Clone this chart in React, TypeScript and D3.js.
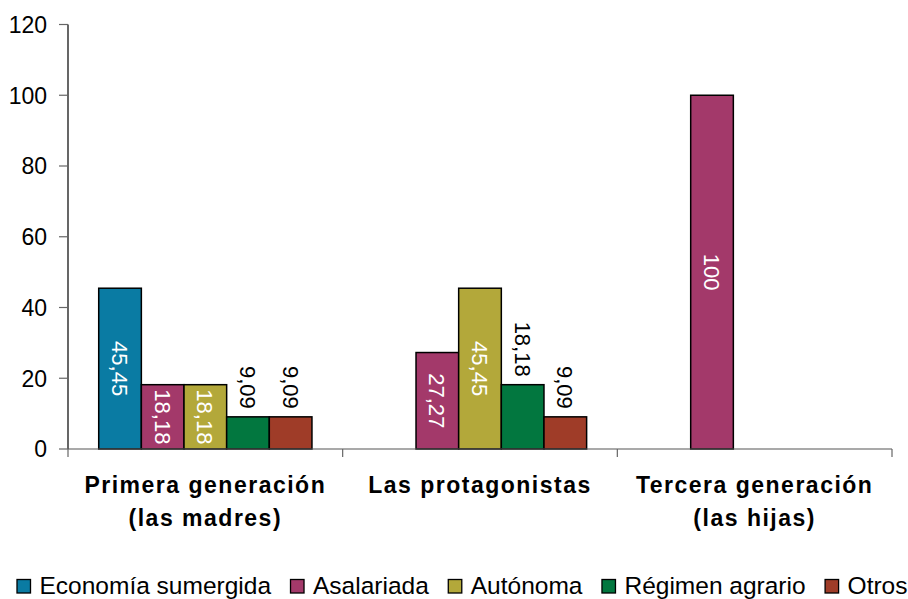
import React, { useEffect, useRef } from "react";
import * as d3 from "d3";

const categories = ["Primera generación (las madres)", "Las protagonistas", "Tercera generación (las hijas)"];
const categoryLines = [["Primera generación", "(las madres)"], ["Las protagonistas"], ["Tercera generación", "(las hijas)"]];
const series = ["Economía sumergida", "Asalariada", "Autónoma", "Régimen agrario", "Otros"];
const economiaSumergida = [45.45, null, null];
const asalariada = [18.18, 27.27, 100];
const autonoma = [18.18, 45.45, null];
const regimenAgrario = [9.09, 18.18, null];
const otros = [9.09, 9.09, null];
const seriesValues = [economiaSumergida, asalariada, autonoma, regimenAgrario, otros];
const colors = ["#0A7BA3", "#A3396A", "#B3A83A", "#02773F", "#9F3C28"];
const yTicks = [0, 20, 40, 60, 80, 100, 120];
// labels drawn above the bar (black) instead of inside (white)
const labelsAbove = [
  ["Primera generación (las madres)", "Régimen agrario"],
  ["Primera generación (las madres)", "Otros"],
  ["Las protagonistas", "Régimen agrario"],
  ["Las protagonistas", "Otros"],
];

const W = 908;
const H = 599;
const FONT = "'Liberation Sans', Arial, Helvetica, sans-serif";

function fmt(v: number) {
  return Number.isInteger(v) ? String(v) : v.toFixed(2).replace(".", ",");
}

export default function App() {
  const ref = useRef<SVGSVGElement>(null);

  useEffect(() => {
    const svg = d3.select(ref.current);
    svg.selectAll("*").remove();

    const left = 68, right = 892, top = 24.5, bottom = 449;
    const x0 = d3.scaleBand<string>().domain(categories).range([left, right]).padding(0);
    const x1 = d3.scaleBand<string>().domain(series).range([0, x0.bandwidth()]).paddingInner(0).paddingOuter(0.72);
    const y = d3.scaleLinear().domain([0, 120]).range([bottom, top]);

    // y axis
    svg.append("line").attr("x1", left).attr("x2", left).attr("y1", y(120)).attr("y2", y(0))
      .attr("stroke", "#000").attr("stroke-width", 1.2);
    const yt = svg.append("g");
    yTicks.forEach((t) => {
      yt.append("line").attr("x1", left - 9).attr("x2", left).attr("y1", y(t)).attr("y2", y(t))
        .attr("stroke", "#666").attr("stroke-width", 1.2);
      yt.append("text").attr("x", 47).attr("y", y(t)).attr("dy", "0.36em").attr("text-anchor", "end")
        .attr("font-family", FONT).attr("font-size", 23).attr("fill", "#000").text(String(t));
    });

    // bars
    const rows: { cat: string; ser: string; v: number; i: number }[] = [];
    categories.forEach((c, ci) => {
      series.forEach((s, si) => {
        const v = seriesValues[si][ci];
        if (v != null) rows.push({ cat: c, ser: s, v, i: si });
      });
    });

    const bars = svg.append("g");
    rows.forEach((r) => {
      const bx = x0(r.cat)! + x1(r.ser)!;
      bars.append("rect").attr("x", bx).attr("y", y(r.v)).attr("width", x1.bandwidth())
        .attr("height", y(0) - y(r.v)).attr("fill", colors[r.i]).attr("stroke", "#000").attr("stroke-width", 1.5);
    });

    // x axis
    svg.append("line").attr("x1", left).attr("x2", right).attr("y1", bottom).attr("y2", bottom)
      .attr("stroke", "#555").attr("stroke-width", 1.2);
    const xTickPos = categories.map((c) => x0(c)!).concat([x0(categories[categories.length - 1])! + x0.bandwidth()]);
    xTickPos.forEach((xp) => {
      svg.append("line").attr("x1", xp).attr("x2", xp).attr("y1", bottom).attr("y2", bottom + 8)
        .attr("stroke", "#666").attr("stroke-width", 1.2);
    });

    // data labels
    const lab = svg.append("g");
    rows.forEach((r) => {
      const cx = x0(r.cat)! + x1(r.ser)! + x1.bandwidth() / 2;
      const above = labelsAbove.some(([c, s]) => c === r.cat && s === r.ser);
      const cy = above ? y(r.v) - 8 : (y(r.v) + y(0)) / 2;
      lab.append("text")
        .attr("transform", `translate(${cx},${cy}) rotate(90)`)
        .attr("text-anchor", above ? "end" : "middle")
        .attr("dy", "0.36em")
        .attr("font-family", FONT).attr("font-size", 22)
        .attr("fill", above ? "#000" : "#fff")
        .text(fmt(r.v));
    });

    // category labels
    categories.forEach((c, ci) => {
      const cx = x0(c)! + x0.bandwidth() / 2;
      categoryLines[ci].forEach((line, li) => {
        svg.append("text").attr("x", cx).attr("y", 493 + li * 33).attr("text-anchor", "middle")
          .attr("font-family", FONT).attr("font-size", 23).attr("font-weight", "bold")
          .attr("letter-spacing", "1.5px").attr("fill", "#000").text(line);
      });
    });

    // legend
    const lg = svg.append("g");
    let cursor = 0;
    series.forEach((s, si) => {
      lg.append("rect").attr("x", cursor + 0.5).attr("y", 579.5).attr("width", 13.5).attr("height", 13.5)
        .attr("fill", colors[si]).attr("stroke", "#000").attr("stroke-width", 1.3);
      const t = lg.append("text").attr("x", cursor + 23).attr("y", 594)
        .attr("font-family", FONT).attr("font-size", 24.5).attr("fill", "#000").text(s);
      const w = (t.node() as SVGTextElement).getComputedTextLength();
      cursor += 23 + w + (si < series.length - 1 ? 19 : 0);
    });
    lg.attr("transform", `translate(${462 - cursor / 2},0)`);
  }, []);

  return (
    <svg ref={ref} width={W} height={H} style={{ position: "absolute", left: 0, top: 0, background: "#fff" }} />
  );
}
